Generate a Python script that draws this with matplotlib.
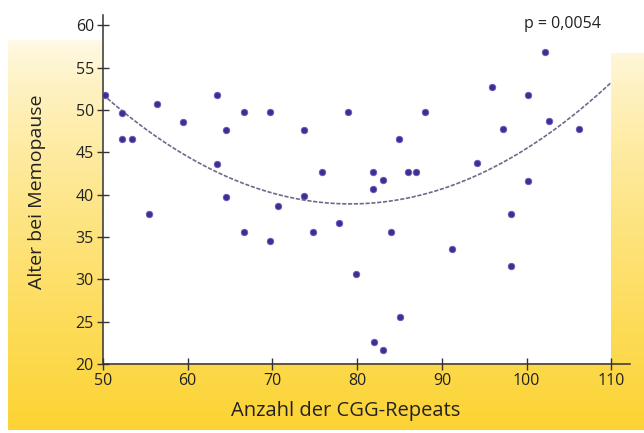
import matplotlib.pyplot as plt
import numpy as np
from matplotlib.patches import Rectangle

plt.rcParams['font.family'] = ['Open Sans', 'DejaVu Sans']

cgg_repeats = [50.2, 52.3, 52.3, 53.4, 55.4, 56.4, 59.5, 63.5, 63.5, 64.5,
               64.5, 66.6, 66.6, 69.7, 69.7, 70.7, 73.7, 73.7, 74.8, 75.8,
               77.9, 78.9, 79.9, 81.9, 81.9, 83.0, 82.0, 83.1, 84.0, 84.9,
               85.1, 86.0, 87.0, 88.0, 91.2, 94.1, 95.9, 97.2, 98.2, 98.2,
               100.2, 100.2, 102.2, 102.6, 106.2]
alter = [51.7, 49.6, 46.6, 46.6, 37.7, 50.7, 48.6, 51.7, 43.6, 47.6,
         39.7, 49.7, 35.6, 49.7, 34.5, 38.6, 47.6, 39.8, 35.6, 42.7,
         36.6, 49.7, 30.6, 42.7, 40.7, 41.7, 22.6, 21.6, 35.6, 46.6,
         25.6, 42.7, 42.7, 49.7, 33.6, 43.7, 52.7, 47.7, 37.7, 31.6,
         51.7, 41.6, 56.8, 48.7, 47.7]

# quadratische Anpassung: y = a*(x-h)^2 + k
fit_a, fit_h, fit_k = 0.01513, 79.2, 38.9

x_ticks = [50, 60, 70, 80, 90, 100, 110]
y_ticks = [20, 25, 30, 35, 40, 45, 50, 55, 60]

W, H = 644, 433
fig = plt.figure(figsize=(W / 100, H / 100), dpi=100)

# Hintergrund: gelber Verlauf + weisse Flaeche
bg = fig.add_axes([0, 0, 1, 1], zorder=0)
bg.axis('off')
grad = np.linspace(0, 1, 256)[:, None]
top = np.array([1.0, 0.98, 0.91])
bot = np.array([0.99, 0.83, 0.2])
img = top + (bot - top) * grad[..., None] ** 0.75
img = np.repeat(img, 2, axis=1)
bg.imshow(img, extent=[8, W, 430, 40], aspect='auto')
bg.add_patch(Rectangle((103, 0), 508, 363, facecolor='white', edgecolor='none'))
bg.add_patch(Rectangle((611, 0), 40, 53, facecolor='white', edgecolor='none'))
bg.set_xlim(0, W)
bg.set_ylim(H, 0)

ax = fig.add_axes([103 / W, (H - 364) / H, 527 / W, 349 / H], zorder=1)
ax.set_facecolor('none')

ax.scatter(cgg_repeats, alter, s=22, color='#3f2f92', edgecolors='#6a5cc0',
           linewidths=0.6, zorder=3)

xs = np.linspace(50, 110, 200)
ax.plot(xs, fit_a * (xs - fit_h) ** 2 + fit_k, color='#6b6b8c', lw=1.2,
        dashes=(2.5, 1), zorder=2)

ax.set_xlim(50, 112.2)
ax.set_ylim(20, 61.2)
ax.set_xticks(x_ticks)
ax.set_yticks(y_ticks)
for s in ['top', 'right']:
    ax.spines[s].set_visible(False)
for s in ['left', 'bottom']:
    ax.spines[s].set_color('#333333')
    ax.spines[s].set_linewidth(1.1)
ax.tick_params(direction='inout', length=9, width=1, color='#333333',
               labelsize=11.5, labelcolor='#222222')
ax.tick_params(axis='y', pad=2)
ax.tick_params(axis='x', pad=2)

fig.text(346 / W, 1 - 411 / H, 'Anzahl der CGG-Repeats', ha='center',
         va='center', fontsize=14.5, color='#222222')
fig.text(37 / W, 1 - 192 / H, 'Alter bei Memopause', ha='center',
         va='center', rotation=90, fontsize=14, color='#222222')
fig.text(601 / W, 1 - 24 / H, 'p = 0,0054', ha='right', va='center',
         fontsize=11.5, color='#222222')

fig.savefig('out.png', dpi=100)
